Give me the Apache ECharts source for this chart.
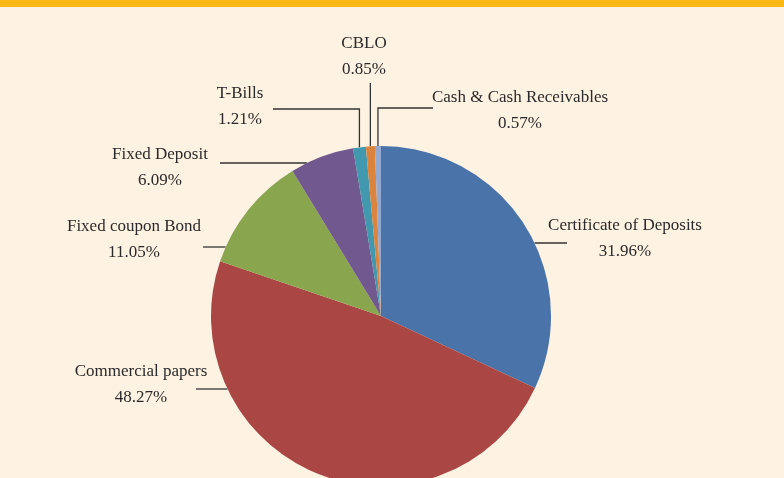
<!DOCTYPE html>
<html>
<head>
<meta charset="utf-8">
<script src="https://cdn.jsdelivr.net/npm/echarts@6/dist/echarts.min.js"></script>
<style>
  html, body { margin: 0; padding: 0; background: #fef2e2; }
  #chart { width: 784px; height: 478px; }
</style>
</head>
<body>
<div id="chart"></div>
<script>
// ── Data: portfolio allocation (%) ──
const categories = [
  'Certificate of Deposits',
  'Commercial papers',
  'Fixed coupon Bond',
  'Fixed Deposit',
  'T-Bills',
  'CBLO',
  'Cash & Cash Receivables'
];
const shares = [31.96, 48.27, 11.05, 6.09, 1.21, 0.85, 0.57];
const colors = ['#4a73a9', '#aa4643', '#89a54e', '#71588f', '#4198af', '#db843d', '#93a9cf'];

// ── Label placement (text centre, leader line row / start) ──
const CX = 381, CY = 316, R = 170;
const labelSpots = [
  { x: 625, y: 239, lineY: 243, lineX: 567, kind: 'right' },
  { x: 141, y: 385, lineY: 389, lineX: 196, kind: 'left' },
  { x: 134, y: 240, lineY: 247, lineX: 203, kind: 'left' },
  { x: 160, y: 168, lineY: 163, lineX: 220, kind: 'left' },
  { x: 240, y: 107, lineY: 109, lineX: 273, kind: 'top' },
  { x: 364, y: 57,  lineY: 83,  lineX: null, kind: 'top' },
  { x: 520, y: 111, lineY: 108, lineX: 433, kind: 'top' }
];

const total = shares.reduce((a, b) => a + b, 0);
// mid-angle anchor on the rim (clockwise from 12 o'clock)
function anchorOf(i) {
  let before = 0;
  for (let k = 0; k < i; k++) before += shares[k];
  const a = (before + shares[i] / 2) / total * Math.PI * 2;
  return [CX + R * Math.sin(a), CY - R * Math.cos(a)];
}

function leader(i) {
  const s = labelSpots[i];
  if (s.kind === 'top') {
    const [ax, ay] = anchorOf(i);
    const endX = s.lineX == null ? ax : s.lineX;
    return [[ax, ay], [ax, s.lineY], [endX, s.lineY]];
  }
  const dx = Math.sqrt(R * R - (s.lineY - CY) * (s.lineY - CY));
  const ex = s.kind === 'left' ? CX - dx : CX + dx;
  return [[ex, s.lineY], [(ex + s.lineX) / 2, s.lineY], [s.lineX, s.lineY]];
}

const chart = echarts.init(document.getElementById('chart'));

chart.setOption({
  backgroundColor: '#fef2e2',
  animation: false,
  color: colors,
  graphic: [{
    type: 'rect',
    shape: { x: 0, y: 0, width: 784, height: 7 },
    style: { fill: '#fdb813' },
    silent: true
  }],
  series: [{
    type: 'pie',
    center: [CX, CY],
    radius: R,
    startAngle: 90,
    clockwise: true,
    avoidLabelOverlap: false,
    emphasis: { disabled: true },
    label: {
      show: true,
      position: 'outside',
      formatter: p => p.name + '\n' + p.value.toFixed(2) + '%',
      fontFamily: '"Liberation Serif", "DejaVu Serif", serif',
      fontSize: 17,
      lineHeight: 26,
      color: '#2a2a2a',
      align: 'center'
    },
    labelLine: {
      show: true,
      lineStyle: { color: '#333', width: 1.3 }
    },
    labelLayout: params => {
      const s = labelSpots[params.dataIndex];
      return {
        x: s.x,
        y: s.y,
        align: 'center',
        verticalAlign: 'middle',
        labelLinePoints: leader(params.dataIndex)
      };
    },
    data: categories.map((name, i) => ({ name, value: shares[i] }))
  }]
});
</script>
</body>
</html>
